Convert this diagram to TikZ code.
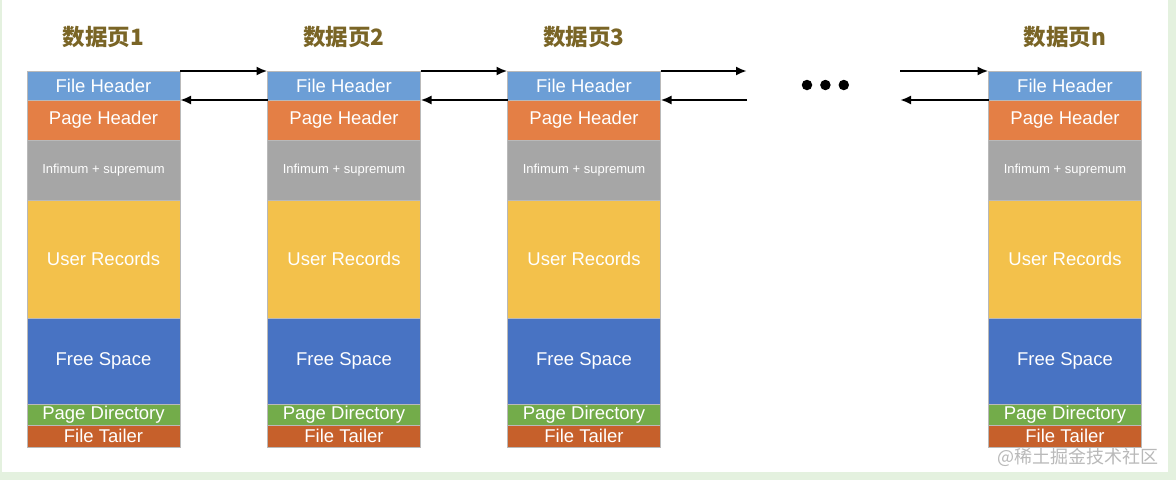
\documentclass[tikz,border=0pt]{standalone}
\usepackage{fontspec}
\setmainfont{Liberation Sans}
\newfontfamily\cjkfont{Noto Sans CJK SC}
\usetikzlibrary{positioning, arrows.meta}
\definecolor{HeadBlue}{HTML}{6C9ED6}
\definecolor{PageOrange}{HTML}{E47F45}
\definecolor{InfGray}{HTML}{A6A6A6}
\definecolor{RecYellow}{HTML}{F3C14B}
\definecolor{FreeBlue}{HTML}{4873C3}
\definecolor{DirGreen}{HTML}{73AC4A}
\definecolor{TailRed}{HTML}{C6602B}
\definecolor{TitleGold}{HTML}{7A6526}
\definecolor{FrameGreen}{HTML}{E4F1DF}
\tikzstyle{Part} = [
rectangle, draw=gray!55, line width=0.6pt,
minimum width=153pt, inner sep=0pt, outer sep=0pt,
text=white, font=\fontsize{18.5}{18.5}\selectfont]
\tikzstyle{Title} = [font=\cjkfont\bfseries\fontsize{22.5}{22.5}\selectfont, text=TitleGold]
\tikzstyle{Arrow} = [line width=2.4pt, -{Latex[length=11pt,width=9pt]}]
\tikzstyle{Dot} = [circle, fill=black, minimum size=10.5pt, inner sep=0pt]

\begin{document}
\begin{tikzpicture}[x=1pt, y=1pt]
    \useasboundingbox (0,0) rectangle (1176,-480);
    \fill[FrameGreen] (0,0) rectangle (1176,-480);
    \fill[white] (2,0) rectangle (1168,-472);
    % one column per page
    \foreach \x/\n/\t in {103.5/1/1, 344/2/2, 584/3/3, 1065/4/n} {
        \node[Title] (t\n) at (\x,-37) {数据页\t};
        \node[Part, fill=HeadBlue, minimum height=29pt] (fh\n) at (\x,-85.5) {File Header};
        \node[Part, fill=PageOrange, minimum height=40pt, below=0pt of fh\n] (ph\n) {Page Header};
        \node[Part, fill=InfGray, minimum height=60pt, below=0pt of ph\n,
              font=\fontsize{13}{13}\selectfont] (inf\n) {Infimum + supremum};
        \node[Part, fill=RecYellow, minimum height=118pt, below=0pt of inf\n] (ur\n) {User Records};
        \node[Part, fill=FreeBlue, minimum height=86pt, below=0pt of ur\n] (fs\n) {Free Space};
        \node[Part, fill=DirGreen, minimum height=21pt, below=0pt of fs\n] (pd\n) {Page Directory};
        \node[Part, fill=TailRed, minimum height=22pt, below=0pt of pd\n] (ft\n) {File Tailer};
    }
    \coordinate (gapL) at (747,0);
    \coordinate (gapR) at (900,0);
    \draw[Arrow] (fh1.north east) to (fh2.north west);
    \draw[Arrow] (fh2.south west) to (fh1.south east);
    \draw[Arrow] (fh2.north east) to (fh3.north west);
    \draw[Arrow] (fh3.south west) to (fh2.south east);
    \draw[Arrow] (fh3.north east) to (fh3.north east -| gapL);
    \draw[Arrow] (fh3.south east -| gapL) to (fh3.south east);
    \draw[Arrow] (fh4.north west -| gapR) to (fh4.north west);
    \draw[Arrow] (fh4.south west) to (fh4.south west -| gapR);
    \node[Dot] (d1) at (807,-85) {};
    \node[Dot, right=7.5pt of d1] (d2) {};
    \node[Dot, right=7.5pt of d2] (d3) {};
    \node[font=\cjkfont\fontsize{18}{18}\selectfont, text=gray!55] (wm) at (1078,-457) {@稀土掘金技术社区};
\end{tikzpicture}
\end{document}
